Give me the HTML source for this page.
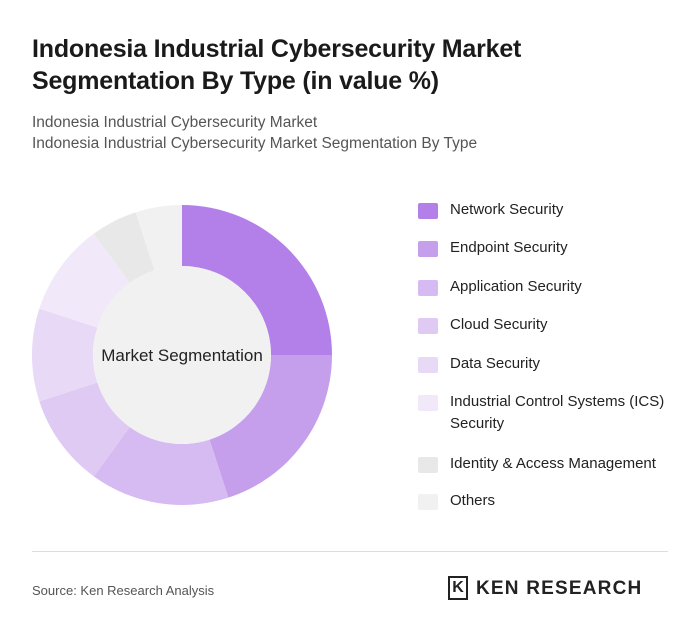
<!DOCTYPE html>
<html><head><meta charset="utf-8">
<style>
body{margin:0;width:700px;height:637px;background:#fff;font-family:"Liberation Sans",sans-serif;position:relative;overflow:hidden}
.t{position:absolute;left:32px;top:33px;font-size:25px;font-weight:bold;color:#1a1a1a;line-height:32px;letter-spacing:-0.2px}
.s{position:absolute;left:32px;font-size:15.5px;color:#555}
.leg{position:absolute;left:418px;font-size:15px;color:#222;line-height:22px}
.sw{position:absolute;left:418px;width:20px;height:16px;border-radius:2px}
</style></head><body>
<div class="t">Indonesia Industrial Cybersecurity Market<br>Segmentation By Type (in value %)</div>
<div class="s" style="top:114px">Indonesia Industrial Cybersecurity Market</div>
<div class="s" style="top:135px">Indonesia Industrial Cybersecurity Market Segmentation By Type</div>
<svg id="donut" width="700" height="637" style="position:absolute;left:0;top:0"></svg>
<div id="legend"></div>
<div style="position:absolute;left:32px;top:551px;width:636px;height:1px;background:#ddd"></div>
<div style="position:absolute;left:32px;top:583px;font-size:13px;color:#555">Source: Ken Research Analysis</div>
<div style="position:absolute;left:448px;top:576px;width:20px;height:24px;border:2px solid #222;box-sizing:border-box;font-weight:bold;font-size:16px;line-height:20px;text-align:center;color:#222">K</div>
<div style="position:absolute;left:476px;top:578px;font-size:19px;font-weight:bold;color:#222;letter-spacing:1.2px">KEN RESEARCH</div>
<script>
const categories=["Network Security","Endpoint Security","Application Security","Cloud Security","Data Security","Industrial Control Systems (ICS) Security","Identity & Access Management","Others"];
const values=[25,20,15,10,10,10,5,5];
const colors=["#b380e9","#c59fec","#d6bbf2","#dfcaf4","#e8d9f7","#f1e9fa","#e8e8e8","#f1f1f1"];
const legendTops=[201,239,278,316,355,393,455,492];
const svg=document.getElementById('donut');const NS="http://www.w3.org/2000/svg";
const cx=182,cy=355,R=150,r=89;
const total=values.reduce((a,b)=>a+b,0);let a0=0;
function pt(a,rad){return [cx+rad*Math.sin(a),cy-rad*Math.cos(a)];}
values.forEach((v,i)=>{
 const a1=a0+v/total*2*Math.PI;const lg=a1-a0>Math.PI?1:0;
 const [x0,y0]=pt(a0,R),[x1,y1]=pt(a1,R),[x2,y2]=pt(a1,r),[x3,y3]=pt(a0,r);
 const p=document.createElementNS(NS,'path');
 p.setAttribute('d',`M${x0},${y0}A${R},${R} 0 ${lg} 1 ${x1},${y1}L${x2},${y2}A${r},${r} 0 ${lg} 0 ${x3},${y3}Z`);
 p.setAttribute('fill',colors[i]);
 
 
 svg.appendChild(p);a0=a1;
});
const c=document.createElementNS(NS,'circle');c.setAttribute('cx',cx);c.setAttribute('cy',cy);c.setAttribute('r',r);c.setAttribute('fill','#f1f1f1');


svg.appendChild(c);
const t=document.createElementNS(NS,'text');t.setAttribute('x',cx);t.setAttribute('y',cy+6);t.setAttribute('text-anchor','middle');t.setAttribute('font-size','17');t.setAttribute('fill','#222');t.setAttribute('font-family','Liberation Sans, sans-serif');t.textContent='Market Segmentation';


svg.appendChild(t);
const lg=document.getElementById('legend');
categories.forEach((n,i)=>{
 const s=document.createElement('div');s.className='sw';s.style.top=(legendTops[i]+2)+'px';s.style.background=colors[i];
 
 
 lg.appendChild(s);
 const d=document.createElement('div');d.className='leg';d.style.top=(legendTops[i]-2)+'px';d.style.left='450px';d.style.width='220px';d.textContent=n;
 
 
 lg.appendChild(d);
});
</script>
</body></html>
